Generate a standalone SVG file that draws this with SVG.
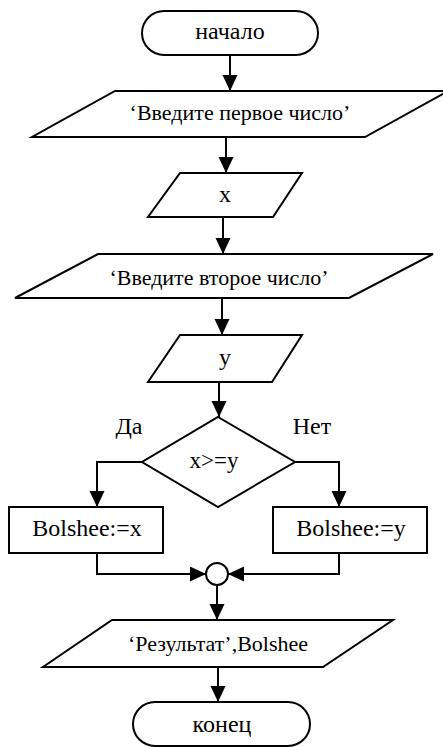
<svg xmlns="http://www.w3.org/2000/svg" width="443" height="747" viewBox="0 0 443 747">
  <style>
    .shape { fill: #ffffff; stroke: #000000; stroke-width: 2; }
    .line { fill: none; stroke: #000000; stroke-width: 2; }
    .lbl { font-family: 'Liberation Serif', 'Times New Roman', serif; font-size: 24px; fill: #000000; text-anchor: middle; }
    .lbl.msg { font-size: 22px; }
    .lbl.cond { font-size: 23px; }
  </style>
  <defs>
    <marker id="arrow" markerUnits="userSpaceOnUse" markerWidth="16" markerHeight="16" refX="16" refY="7.5" orient="auto">
      <path d="M0 0 L16 7.5 L0 15 Z" fill="#000000"/>
    </marker>
  </defs>
  <rect width="443" height="747" fill="#ffffff"/>

  <g id="connectors">
    <path class="line" d="M230 55 V91" marker-end="url(#arrow)"/>
    <path class="line" d="M226 137 V173" marker-end="url(#arrow)"/>
    <path class="line" d="M223 217 V254" marker-end="url(#arrow)"/>
    <path class="line" d="M222 298 V335" marker-end="url(#arrow)"/>
    <path class="line" d="M219 382 V417" marker-end="url(#arrow)"/>
    <path class="line" d="M142 462 H97 V507" marker-end="url(#arrow)"/>
    <path class="line" d="M295 462 H339 V507" marker-end="url(#arrow)"/>
    <path class="line" d="M97 553 V574 H206" marker-end="url(#arrow)"/>
    <path class="line" d="M339 553 V574 H228" marker-end="url(#arrow)"/>
    <path class="line" d="M217 585 V620" marker-end="url(#arrow)"/>
    <path class="line" d="M218 667 V702" marker-end="url(#arrow)"/>
  </g>

  <g id="start">
    <rect class="shape" x="142" y="11" width="176" height="44" rx="22" ry="22"/>
    <text class="lbl" x="230" y="39">начало</text>
  </g>

  <g id="prompt1">
    <polygon class="shape" points="115,91 448,91 365,137 32,137"/>
    <text class="lbl msg" x="240" y="120">‘Введите первое число’</text>
  </g>

  <g id="input-x">
    <polygon class="shape" points="180,173 302,173 273,217 148,217"/>
    <text class="lbl" x="225" y="202">x</text>
  </g>

  <g id="prompt2">
    <polygon class="shape" points="98,254 433,254 349,298 15,298"/>
    <text class="lbl msg" x="219" y="285">‘Введите второе число’</text>
  </g>

  <g id="input-y">
    <polygon class="shape" points="180,335 302,335 272,382 148,382"/>
    <text class="lbl" x="225" y="365">y</text>
  </g>

  <g id="decision">
    <polygon class="shape" points="218,417 295,462 218,507 142,462"/>
    <text class="lbl cond" x="214" y="468">x&gt;=y</text>
  </g>

  <g id="label-yes">
    <text class="lbl" x="129" y="434">Да</text>
  </g>

  <g id="label-no">
    <text class="lbl" x="312" y="434">Нет</text>
  </g>

  <g id="assign-x">
    <rect class="shape" x="9" y="507" width="154" height="46"/>
    <text class="lbl" x="87" y="536">Bolshee:=x</text>
  </g>

  <g id="assign-y">
    <rect class="shape" x="273" y="507" width="154" height="46"/>
    <text class="lbl" x="351" y="536">Bolshee:=y</text>
  </g>

  <g id="merge">
    <circle class="shape" cx="217" cy="574" r="11"/>
  </g>

  <g id="output">
    <polygon class="shape" points="112,620 393,620 323,667 43,667"/>
    <text class="lbl msg" x="218" y="651">‘Результат’,Bolshee</text>
  </g>

  <g id="end">
    <rect class="shape" x="133" y="702" width="177" height="44" rx="22" ry="22"/>
    <text class="lbl" x="222" y="732">конец</text>
  </g>
</svg>
